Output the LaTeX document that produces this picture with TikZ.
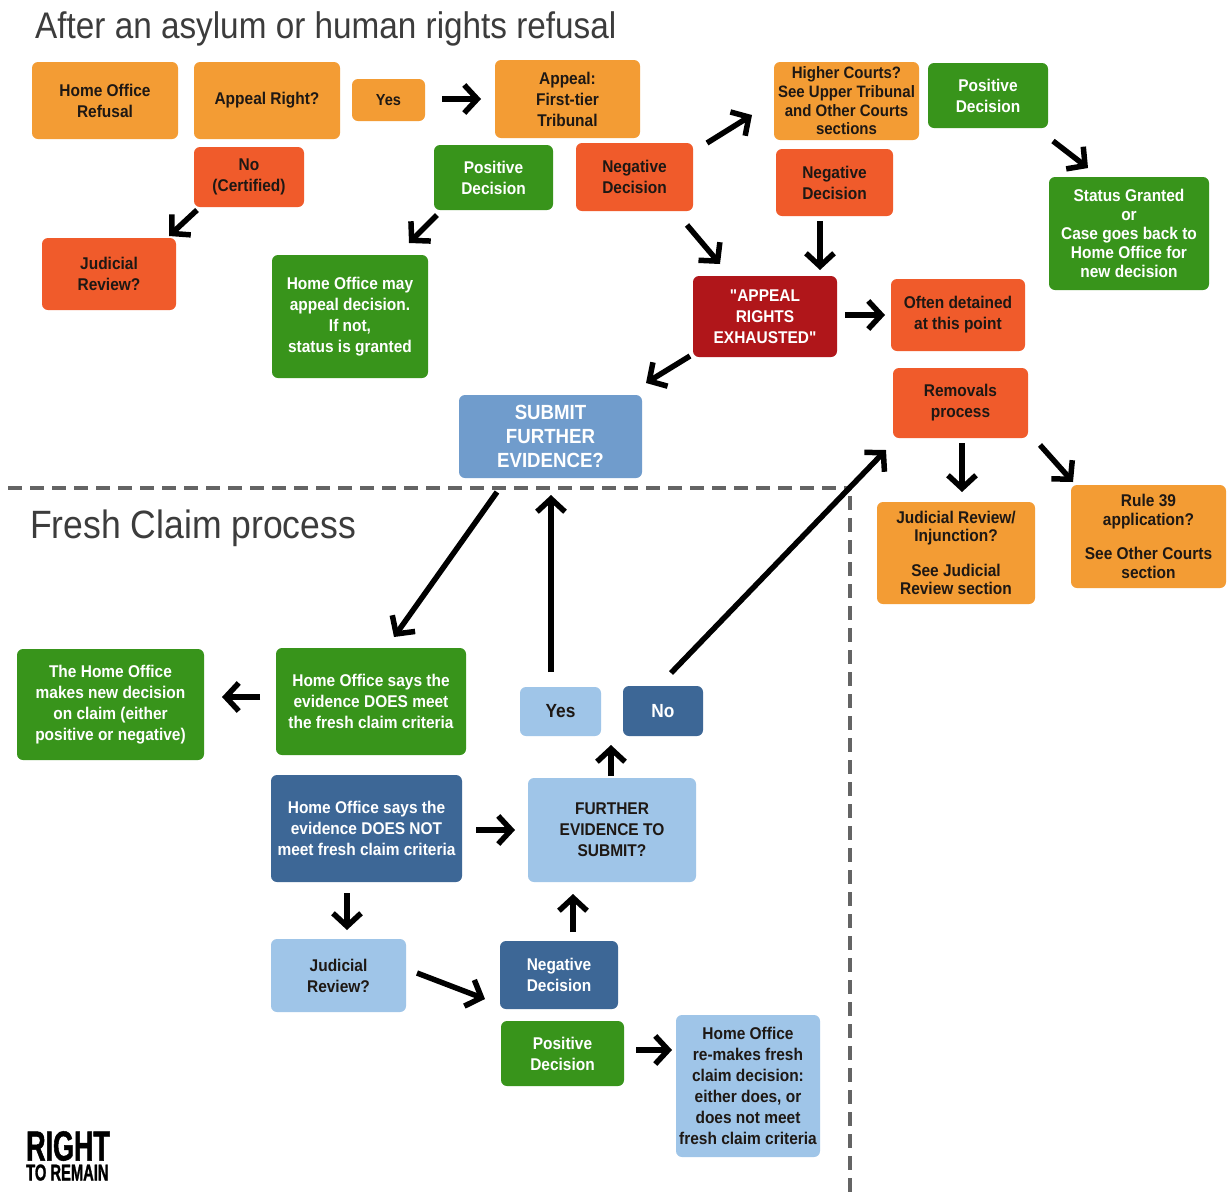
\documentclass[tikz,border=0pt]{standalone}
\usepackage{fontspec}
\usepackage{graphicx}
\usetikzlibrary{arrows.meta,calc}
\setmainfont{Liberation Sans}
\newfontfamily\bxf{Liberation Sans}[FakeStretch=0.91]
\newfontfamily\ttlf{Liberation Sans}[FakeStretch=0.9]
\newfontfamily\logof{Liberation Sans}[FakeStretch=0.64,FakeBold=1.2]
\definecolor{corange}{RGB}{243,156,52}
\definecolor{cred}{RGB}{240,91,43}
\definecolor{cdred}{RGB}{176,22,26}
\definecolor{cgreen}{RGB}{56,148,27}
\definecolor{csteel}{RGB}{112,156,204}
\definecolor{clblue}{RGB}{159,197,232}
\definecolor{cdblue}{RGB}{61,103,150}
\definecolor{ctxt}{RGB}{30,24,20}
\definecolor{ctitle}{RGB}{60,60,60}
\definecolor{cdash}{RGB}{100,100,100}
\tikzset{
  box/.style={rounded corners=6pt, anchor=north west, inner sep=2pt, outer sep=0pt,
    align=center, font=\bxf\bfseries\fontsize{17}{21}\selectfont},
  obox/.style={box, fill=corange, text=ctxt},
  rbox/.style={box, fill=cred, text=ctxt},
  drbox/.style={box, fill=cdred, text=white},
  gbox/.style={box, fill=cgreen, text=white},
  sbbox/.style={box, fill=csteel, text=white},
  lbbox/.style={box, fill=clblue, text=ctxt},
  dbbox/.style={box, fill=cdblue, text=white},
  arr/.style={line width=5.5pt, black, -{Straight Barb[length=13pt,width=28pt]}},
  ttl/.style={anchor=base west, inner sep=0pt, text=ctitle}
}
\begin{document}
\begin{tikzpicture}[x=1pt,y=-1pt]
\useasboundingbox[fill=white] (0,0) rectangle (1227,1200);
% titles
\node[ttl, font=\ttlf\fontsize{37}{40}\selectfont] (t1) at (35,38) {After an asylum or human rights refusal};
\node[ttl, font=\ttlf\fontsize{39.5}{42}\selectfont] (t2) at (30,538) {Fresh Claim process};
% dashed separators
\draw[cdash, line width=4pt, dash pattern=on 14pt off 8pt] (8,488) -- (850,488);
\draw[cdash, line width=4pt, dash pattern=on 14pt off 8pt] (850,496) -- (850,1200);
% upper section
\node[obox, minimum width=146pt, minimum height=77pt] (hor) at (32,62) {Home Office\\Refusal};
\node[obox, minimum width=146pt, minimum height=77pt] (ar) at (194,62) {Appeal Right?};
\node[obox, minimum width=73pt, minimum height=42pt, font=\bxf\bfseries\fontsize{16}{20}\selectfont] (yes1) at (352,79) {Yes};
\node[obox, minimum width=145pt, minimum height=78pt] (ft) at (495,60) {Appeal:\\First-tier\\Tribunal};
\node[rbox, minimum width=110pt, minimum height=60pt] (nocert) at (194,147) {No\\(Certified)};
\node[gbox, minimum width=119pt, minimum height=65pt] (pos1) at (434,145) {Positive\\Decision};
\node[rbox, minimum width=117pt, minimum height=68pt] (neg1) at (576,143) {Negative\\Decision};
\node[rbox, minimum width=134pt, minimum height=72pt] (jr1) at (42,238) {Judicial\\Review?};
\node[gbox, minimum width=156pt, minimum height=123pt] (homay) at (272,255) {Home Office may\\appeal decision.\\If not,\\status is granted};
\node[obox, minimum width=145pt, minimum height=78pt, font=\bxf\bfseries\fontsize{16.5}{18.7}\selectfont] (hc) at (774,62) {Higher Courts?\\See Upper Tribunal\\and Other Courts\\sections};
\node[gbox, minimum width=120pt, minimum height=65pt] (pos2) at (928,63) {Positive\\Decision};
\node[rbox, minimum width=117pt, minimum height=67pt] (neg2) at (776,149) {Negative\\Decision};
\node[gbox, minimum width=160pt, minimum height=113pt, font=\bxf\bfseries\fontsize{17}{19}\selectfont] (status) at (1049,177) {Status Granted\\or\\Case goes back to\\Home Office for\\new decision};
\node[drbox, minimum width=144pt, minimum height=81pt] (are) at (693,276) {"APPEAL\\RIGHTS\\EXHAUSTED"};
\node[rbox, minimum width=134pt, minimum height=72pt] (det) at (891,279) {Often detained\\at this point};
\node[rbox, minimum width=135pt, minimum height=70pt] (rem) at (893,368) {Removals\\process};
\node[sbbox, minimum width=183pt, minimum height=83pt, font=\bxf\bfseries\fontsize{20.5}{24}\selectfont] (sub) at (459,395) {SUBMIT\\FURTHER\\EVIDENCE?};
\node[obox, minimum width=158pt, minimum height=102pt, font=\bxf\bfseries\fontsize{17}{18.5}\selectfont] (jrinj) at (877,502) {Judicial Review/\\Injunction?\\[16pt]See Judicial\\Review section};
\node[obox, minimum width=155pt, minimum height=103pt, font=\bxf\bfseries\fontsize{17}{18.5}\selectfont] (r39) at (1071,485) {Rule 39\\application?\\[16pt]See Other Courts\\section};
% lower section
\node[gbox, minimum width=187pt, minimum height=111pt] (hocn) at (17,649) {The Home Office\\makes new decision\\on claim (either\\positive or negative)};
\node[gbox, minimum width=190pt, minimum height=107pt] (does) at (276,648) {Home Office says the\\evidence DOES meet\\the fresh claim criteria};
\node[lbbox, minimum width=81pt, minimum height=49pt, font=\bxf\bfseries\fontsize{19}{22}\selectfont] (yes2) at (520,687) {Yes};
\node[dbbox, minimum width=80pt, minimum height=50pt, font=\bxf\bfseries\fontsize{19}{22}\selectfont] (no2) at (623,686) {No};
\node[dbbox, minimum width=191pt, minimum height=107pt] (doesnot) at (271,775) {Home Office says the\\evidence DOES NOT\\meet fresh claim criteria};
\node[lbbox, minimum width=168pt, minimum height=104pt] (fets) at (528,778) {FURTHER\\EVIDENCE TO\\SUBMIT?};
\node[lbbox, minimum width=135pt, minimum height=73pt] (jr2) at (271,939) {Judicial\\Review?};
\node[dbbox, minimum width=118pt, minimum height=68pt] (neg3) at (500,941) {Negative\\Decision};
\node[gbox, minimum width=123pt, minimum height=65pt] (pos3) at (501,1021) {Positive\\Decision};
\node[lbbox, minimum width=144pt, minimum height=142pt] (remake) at (676,1015) {Home Office\\re-makes fresh\\claim decision:\\either does, or\\does not meet\\fresh claim criteria};
% logo
\node[anchor=north west, inner sep=0pt, text=black] (logo) at (26,1131)
  {\vbox{\offinterlineskip
    \hbox{\logof\bfseries\fontsize{42}{42}\selectfont RIGHT}
    \kern3.5pt
    \hbox{\logof\bfseries\fontsize{23}{23}\selectfont TO REMAIN}}};
% arrows
\draw[arr] ($(yes1.north west)+(90,20)$) -- ($(ft.north west)+(-14,39)$);
\draw[arr] ($(nocert.north west)+(3,63)$) -- ($(jr1.north west)+(127,-2)$);
\draw[arr] ($(pos1.north west)+(3,70)$) -- ($(homay.north west)+(137,-12)$);
\draw[arr] ($(neg1.north west)+(131,0)$) -- ($(hc.north west)+(-22,53)$);
\draw[arr] ($(neg1.north west)+(111,82)$) -- ($(are.north west)+(27,-12)$);
\draw[arr] ($(neg2.north west)+(44,72)$) -- ($(are.north west)+(127,-6)$);
\draw[arr] ($(pos2.north west)+(125,78)$) -- ($(status.north west)+(39,-9)$);
\draw[arr] ($(are.north west)+(152,39)$) -- ($(det.north west)+(-6,36)$);
\draw[arr] ($(are.north west)+(-3,80)$) -- ($(sub.north west)+(187,-12)$);
\draw[arr] ($(rem.north west)+(69,75)$) -- ($(jrinj.north west)+(85,-10)$);
\draw[arr] ($(rem.north west)+(147,77)$) -- ($(r39.north west)+(2,-3)$);
\draw[arr] ($(sub.north west)+(38,97)$) -- ($(does.north west)+(118,-11)$);
\draw[arr] ($(yes2.north west)+(31,-15)$) -- ($(sub.north west)+(92,100)$);
\draw[arr] ($(no2.north west)+(48,-13)$) -- ($(rem.north west)+(-7,82)$);
\draw[arr] ($(does.north west)+(-16,49)$) -- ($(hocn.north west)+(205,48)$);
\draw[arr] ($(doesnot.north west)+(205,55)$) -- ($(fets.north west)+(-13,52)$);
\draw[arr] ($(fets.north west)+(83,-2)$) -- ($(yes2.north west)+(91,58)$);
\draw[arr] ($(doesnot.north west)+(76,118)$) -- ($(jr2.north west)+(76,-9)$);
\draw[arr] ($(jr2.north west)+(146,34)$) -- ($(neg3.north west)+(-15,58)$);
\draw[arr] ($(neg3.north west)+(73,-9)$) -- ($(fets.north west)+(45,116)$);
\draw[arr] ($(pos3.north west)+(135,29)$) -- ($(remake.north west)+(-4,35)$);
\end{tikzpicture}
\end{document}
